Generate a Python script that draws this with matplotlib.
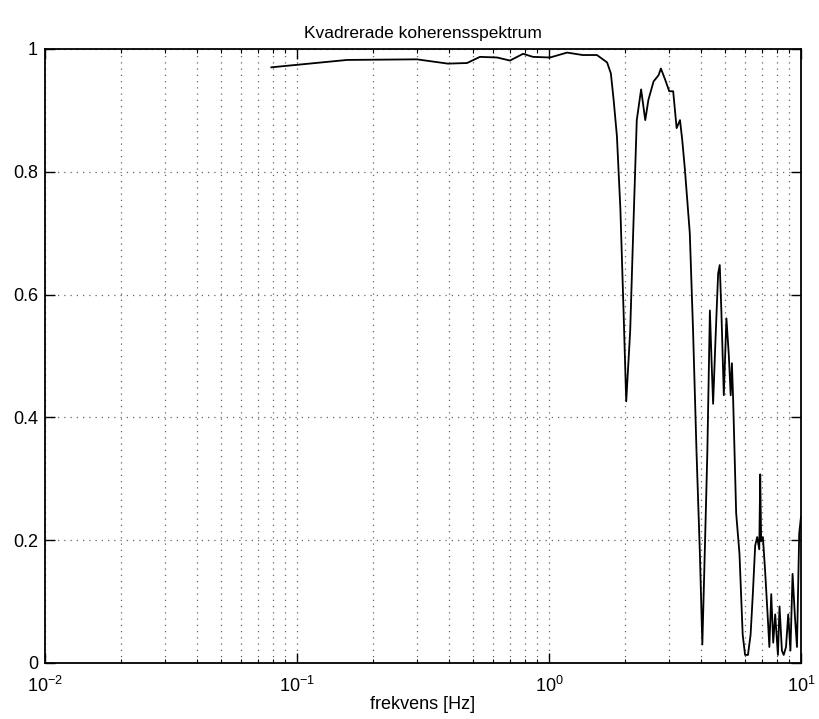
import numpy as np
import matplotlib.pyplot as plt
from matplotlib.ticker import LogLocator, FixedLocator, NullFormatter

plt.rcParams['font.family'] = ['Liberation Sans', 'DejaVu Sans']
plt.rcParams['mathtext.fontset'] = 'custom'
plt.rcParams['mathtext.rm'] = 'Liberation Sans'

# frequency [Hz] and squared coherence
freq = [0.0791, 0.158, 0.299, 0.397, 0.473, 0.532, 0.622, 0.700, 0.789, 0.864,
        1.01, 1.18, 1.36, 1.55, 1.70, 1.76, 1.805, 1.86, 1.92, 1.976,
        2.025, 2.10, 2.16, 2.23, 2.32, 2.41, 2.48, 2.60, 2.72, 2.78,
        2.89, 3.00, 3.11, 3.21, 3.31, 3.38, 3.46, 3.62, 3.73, 3.85,
        3.97, 4.06, 4.15, 4.25, 4.35, 4.42, 4.48, 4.58, 4.69, 4.76,
        4.83, 4.94, 5.06, 5.17, 5.26, 5.32, 5.38, 5.53, 5.70, 5.87,
        6.00, 6.16, 6.31, 6.44, 6.58, 6.70, 6.83, 6.89, 6.95, 7.06,
        7.20, 7.37, 7.49, 7.62, 7.76, 7.90, 8.10, 8.22, 8.40, 8.54,
        8.72, 8.90, 9.08, 9.26, 9.45, 9.64, 9.84, 10.0]
coh = [0.970, 0.982, 0.983, 0.976, 0.977, 0.987, 0.986, 0.981, 0.992, 0.987,
       0.986, 0.994, 0.990, 0.990, 0.978, 0.960, 0.917, 0.858, 0.739, 0.574,
       0.426, 0.541, 0.706, 0.884, 0.934, 0.884, 0.917, 0.947, 0.957, 0.968,
       0.950, 0.931, 0.931, 0.871, 0.884, 0.851, 0.805, 0.700, 0.541, 0.343,
       0.178, 0.030, 0.178, 0.343, 0.574, 0.488, 0.422, 0.528, 0.634, 0.648,
       0.574, 0.436, 0.561, 0.502, 0.436, 0.488, 0.429, 0.244, 0.178, 0.046,
       0.013, 0.013, 0.046, 0.112, 0.191, 0.205, 0.185, 0.307, 0.198, 0.205,
       0.152, 0.079, 0.026, 0.112, 0.033, 0.079, 0.013, 0.092, 0.020, 0.013,
       0.026, 0.079, 0.020, 0.145, 0.079, 0.026, 0.211, 0.238]

y_ticks = [0, 0.2, 0.4, 0.6, 0.8, 1]
y_labels = ['0', '0.2', '0.4', '0.6', '0.8', '1']

fig = plt.figure(figsize=(8.19, 7.19), dpi=100)
ax = fig.add_axes([0.055, 0.078, 0.923, 0.854])

ax.semilogx(freq, coh, color='black', linewidth=1.3)

ax.set_xlim(1e-2, 1e1)
ax.set_ylim(0, 1)
ax.xaxis.set_major_locator(LogLocator(base=10, numticks=10))
ax.xaxis.set_minor_locator(LogLocator(base=10, subs=np.arange(2, 10), numticks=20))
ax.xaxis.set_minor_formatter(NullFormatter())
ax.yaxis.set_major_locator(FixedLocator(y_ticks))
ax.set_yticklabels(y_labels)

ax.grid(True, which='both', axis='x', linestyle=(0, (1, 4)), color='#666666', linewidth=0.9)
ax.grid(True, which='major', axis='y', linestyle=(0, (1, 4)), color='#666666', linewidth=0.9)

ax.tick_params(which='major', direction='in', length=7, width=1.0, top=True, right=True,
               labelsize=13)
ax.tick_params(axis='x', which='major', pad=9)
ax.tick_params(axis='y', which='major', pad=5)
ax.tick_params(which='minor', direction='in', length=3, width=0.8, top=True, right=True)
for s in ax.spines.values():
    s.set_linewidth(1.3)

ax.set_title('Kvadrerade koherensspektrum', fontsize=12.5, pad=8)
ax.set_xlabel('frekvens [Hz]', fontsize=13, labelpad=0)

fig.savefig('out.png', dpi=100)
